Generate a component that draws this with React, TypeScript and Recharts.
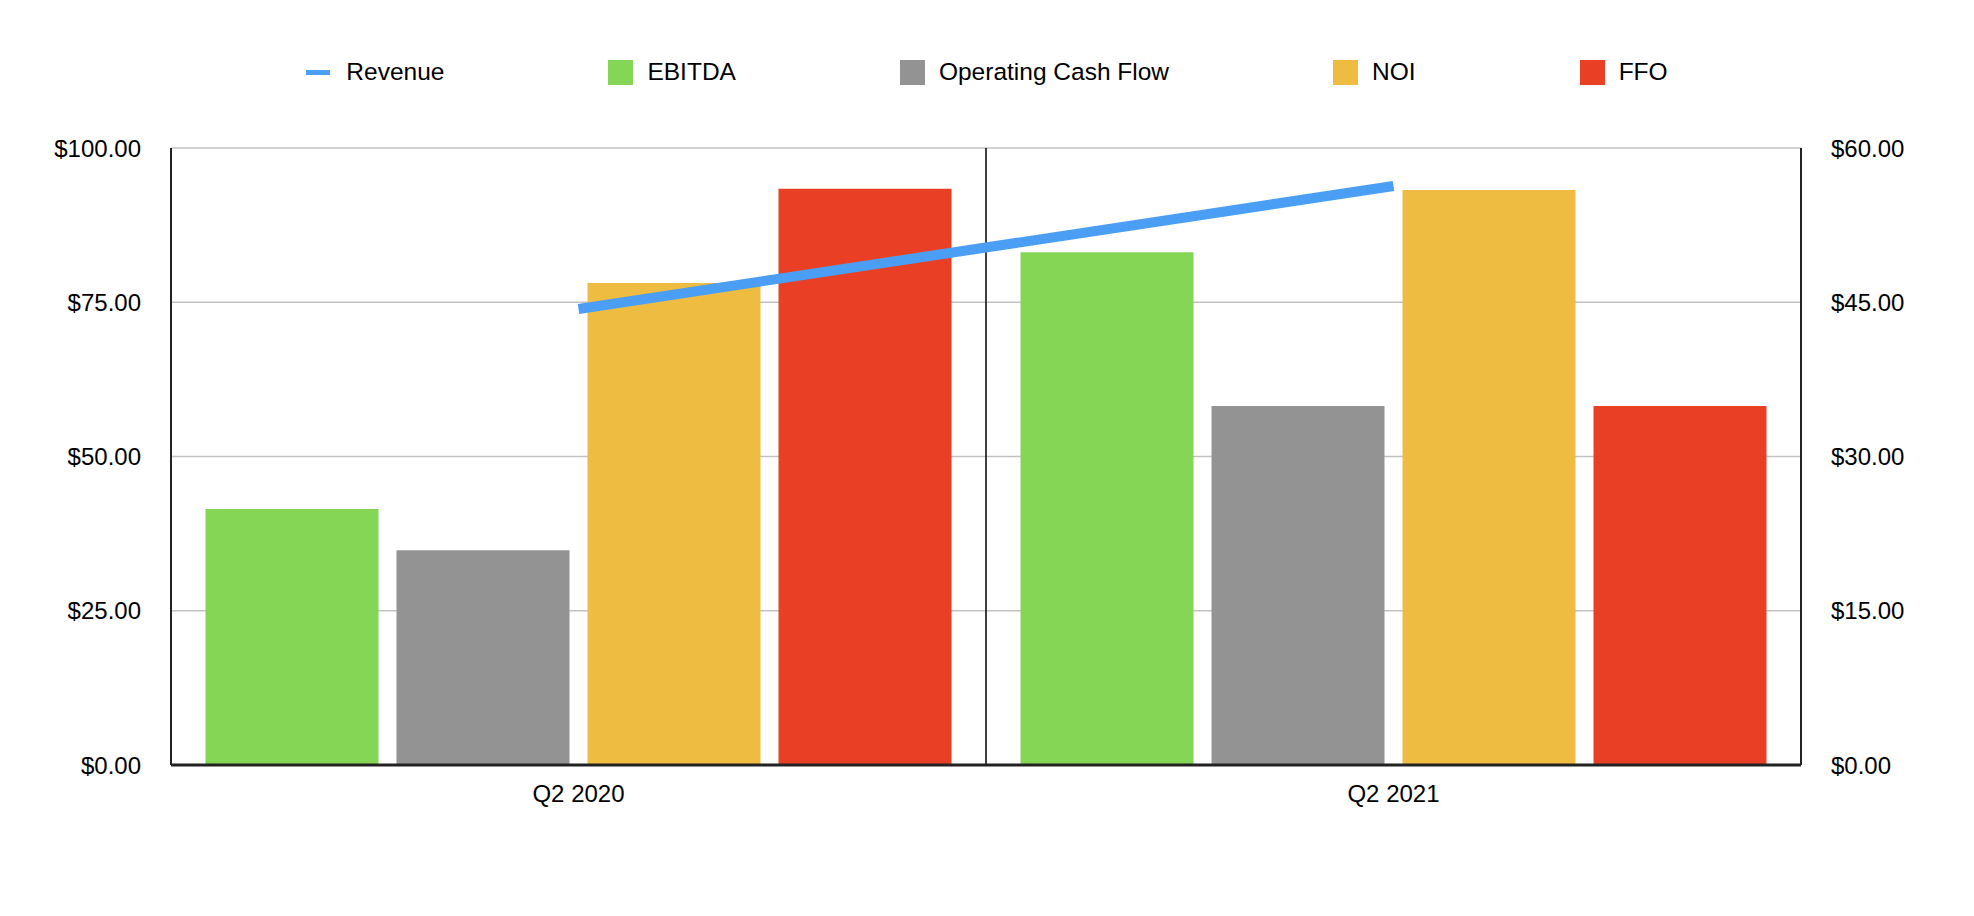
import React from 'react'
import {
  ComposedChart, Bar, Line, XAxis, YAxis, CartesianGrid, ReferenceLine,
} from 'recharts'

const categories = ['Q2 2020', 'Q2 2021']
const revenue = [44.35, 56.3]
const ebitda = [41.5, 83.1]
const operatingCashFlow = [34.8, 58.2]
const noi = [78.1, 93.2]
const ffo = [93.4, 58.2]
const leftTicks = [0, 25, 50, 75, 100]
const rightTicks = [0, 15, 30, 45, 60]

const FONT = '"Liberation Sans", Arial, Helvetica, sans-serif'

const COLORS = {
  revenue: '#4A9FF5',
  ebitda: '#84D654',
  ocf: '#939393',
  noi: '#EEBC40',
  ffo: '#E94025',
}

const legendItems = [
  { label: 'Revenue', color: COLORS.revenue, kind: 'line' },
  { label: 'EBITDA', color: COLORS.ebitda, kind: 'square' },
  { label: 'Operating Cash Flow', color: COLORS.ocf, kind: 'square' },
  { label: 'NOI', color: COLORS.noi, kind: 'square' },
  { label: 'FFO', color: COLORS.ffo, kind: 'square' },
]

const money = (v: number) => `$${v.toFixed(2)}`

export default function App() {
  const data = categories.map((name, i) => ({
    name,
    revenue: revenue[i],
    ebitda: ebitda[i],
    ocf: operatingCashFlow[i],
    noi: noi[i],
    ffo: ffo[i],
  }))

  const tickStyle = { fontSize: 24, fill: '#000', fontFamily: FONT }

  return (
    <div style={{ position: 'absolute', left: 0, top: 0, width: 1974, height: 916, background: '#fff', fontFamily: FONT }}>
      {/* legend sits above the plot, centred like the original */}
      <div style={{
        position: 'absolute', top: 59, left: 0, width: 1974, height: 26,
        display: 'flex', justifyContent: 'center', alignItems: 'center', gap: 164,
      }}>
        {legendItems.map((item) => (
          <div key={item.label} style={{ display: 'flex', alignItems: 'center' }}>
            {item.kind === 'line'
              ? <span style={{ width: 24, height: 5, background: item.color, marginRight: 16 }} />
              : <span style={{ width: 25, height: 25, background: item.color, marginRight: 14 }} />}
            <span style={{ fontSize: 24.5, color: '#000', lineHeight: '26px' }}>{item.label}</span>
          </div>
        ))}
      </div>
      <ComposedChart
        width={1974}
        height={916}
        data={data}
        margin={{ top: 148, right: 0, left: 0, bottom: 91 }}
        barCategoryGap={34.5}
        barGap={18}
      >
        <CartesianGrid yAxisId="left" xAxisId="cat" vertical={false} stroke="#c2c2c2" strokeWidth={1.5} />
        <XAxis
          xAxisId="cat"
          dataKey="name"
          height={60}
          tick={tickStyle}
          tickLine={false}
          tickSize={0}
          tickMargin={20}
          axisLine={{ stroke: '#222', strokeWidth: 3 }}
        />
        <YAxis
          yAxisId="left"
          orientation="left"
          width={171}
          domain={[0, 100]}
          ticks={leftTicks}
          tickFormatter={money}
          tick={tickStyle}
          tickLine={false}
          tickSize={0}
          tickMargin={30}
          axisLine={{ stroke: '#222', strokeWidth: 2 }}
        />
        <YAxis
          yAxisId="right"
          orientation="right"
          width={173}
          domain={[0, 60]}
          ticks={rightTicks}
          tickFormatter={money}
          tick={{ ...tickStyle, textAnchor: 'start' }}
          tickLine={false}
          tickSize={0}
          tickMargin={30}
          axisLine={{ stroke: '#222', strokeWidth: 2 }}
        />
        {/* divider between the two quarters */}
        <ReferenceLine
          xAxisId="cat"
          yAxisId="left"
          x={categories[1]}
          position="start"
          stroke="#000"
          strokeWidth={1.5}
        />
        <Bar xAxisId="cat" yAxisId="left" dataKey="ebitda" fill={COLORS.ebitda} isAnimationActive={false} />
        <Bar xAxisId="cat" yAxisId="left" dataKey="ocf" fill={COLORS.ocf} isAnimationActive={false} />
        <Bar xAxisId="cat" yAxisId="left" dataKey="noi" fill={COLORS.noi} isAnimationActive={false} />
        <Bar xAxisId="cat" yAxisId="left" dataKey="ffo" fill={COLORS.ffo} isAnimationActive={false} />
        <Line
          xAxisId="cat"
          yAxisId="right"
          dataKey="revenue"
          stroke={COLORS.revenue}
          strokeWidth={10}
          dot={false}
          activeDot={false}
          isAnimationActive={false}
        />
      </ComposedChart>
    </div>
  )
}
